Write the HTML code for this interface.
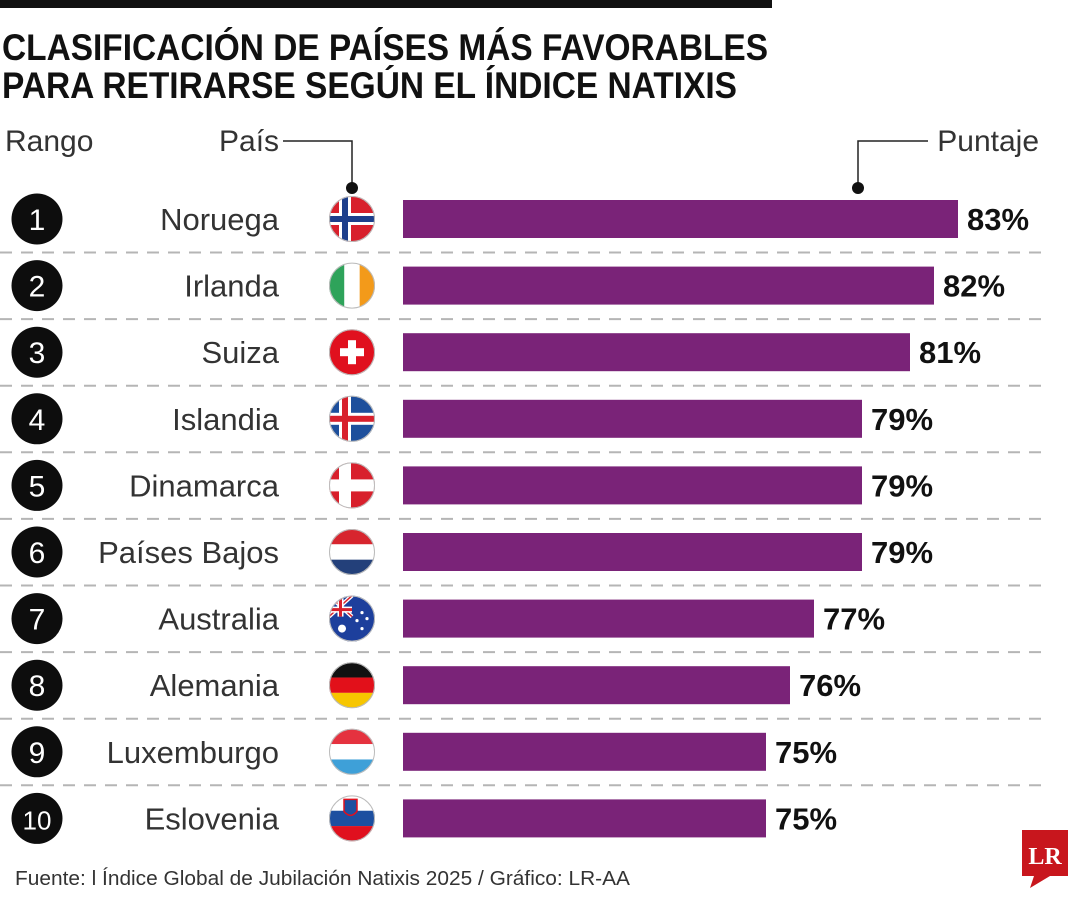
<!DOCTYPE html>
<html><head><meta charset="utf-8"><style>
html,body{margin:0;padding:0;background:#fff;}
svg{display:block;font-family:"Liberation Sans",sans-serif;}
</style></head><body>
<svg id="chart" width="1080" height="900" viewBox="0 0 1080 900" xmlns="http://www.w3.org/2000/svg">
<defs></defs>
<rect x="0" y="0" width="772" height="8" fill="#111"/>
<text x="2" y="60" font-size="37" font-weight="bold" fill="#111" textLength="766" lengthAdjust="spacingAndGlyphs">CLASIFICACIÓN DE PAÍSES MÁS FAVORABLES</text>
<text x="2" y="98" font-size="37" font-weight="bold" fill="#111" textLength="735" lengthAdjust="spacingAndGlyphs">PARA RETIRARSE SEGÚN EL ÍNDICE NATIXIS</text>
<text x="5" y="151" font-size="30" fill="#333">Rango</text>
<text x="219" y="151" font-size="30" fill="#333">País</text>
<polyline points="283,141 352,141 352,185" fill="none" stroke="#222" stroke-width="1.5"/>
<circle cx="352" cy="188" r="6" fill="#111"/>
<text x="1039" y="151" font-size="30" fill="#333" text-anchor="end">Puntaje</text>
<polyline points="928,141 858,141 858,185" fill="none" stroke="#222" stroke-width="1.5"/>
<circle cx="858" cy="188" r="6" fill="#111"/>
<g id="rows"></g>
<text x="15" y="885" font-size="20" fill="#333" textLength="615" lengthAdjust="spacingAndGlyphs">Fuente: l Índice Global de Jubilación Natixis 2025 / Gráfico: LR-AA</text>
<g>
<path d="M1022,830 h46 v46 h-18 l-20,12 l4,-12 h-12 z" fill="#c8161d"/>
<text x="1045" y="864" font-family="Liberation Serif,serif" font-weight="bold" font-size="24" fill="#fff" text-anchor="middle">LR</text>
</g>
</svg>
<script>
const countries=["Noruega","Irlanda","Suiza","Islandia","Dinamarca","Países Bajos","Australia","Alemania","Luxemburgo","Eslovenia"];
const scores=[83,82,81,79,79,79,77,76,75,75];
const valueLabels=["83%","82%","81%","79%","79%","79%","77%","76%","75%","75%"];
const flagCodes=["no","ie","ch","is","dk","nl","au","de","lu","si"];

const NS="http://www.w3.org/2000/svg";
const svg=document.getElementById('chart');
const defs=svg.querySelector('defs');
const rows=document.getElementById('rows');
const X0=403, PX=24, BASE=59.875;
function xScale(v){return X0+(v-BASE)*PX;}
function yRow(i){return 219+i*66.6;}
function mk(tag,attrs,parent){const e=document.createElementNS(NS,tag);for(const k in attrs)e.setAttribute(k,attrs[k]);parent.appendChild(e);return e;}

function drawFlag(code,cx,cy,g,i){
  const r=23;
  const cp=mk('clipPath',{id:'fc'+i},defs);
  mk('circle',{cx:cx,cy:cy,r:r},cp);
  const f=mk('g',{'clip-path':'url(#fc'+i+')'},g);
  const x=cx-r,y=cy-r,w=2*r,h=2*r;
  const R=(a,b,c,d,fill)=>mk('rect',{x:a,y:b,width:c,height:d,fill:fill},f);
  if(code==='no'||code==='is'||code==='dk'){
    const bg={no:'#d8202c',is:'#1d4f9c',dk:'#d8202c'}[code];
    R(x,y,w,h,bg);
    const vx=cx-7;
    R(vx-6,y,12,h,'#fff');R(x,cy-6,w,12,'#fff');
    if(code!=='dk'){const cc=code==='no'?'#1d3f8c':'#d8202c';R(vx-3,y,6,h,cc);R(x,cy-3,w,6,cc);}
  } else if(code==='ie'){R(x,y,w/3,h,'#2ea35a');R(x+w/3,y,w/3,h,'#fff');R(x+2*w/3,y,w/3,h,'#f39a1a');}
  else if(code==='ch'){R(x,y,w,h,'#e0101e');R(cx-4,cy-12,8,24,'#fff');R(cx-12,cy-4,24,8,'#fff');}
  else if(code==='nl'){R(x,y,w,h/3,'#d7252e');R(x,y+h/3,w,h/3,'#fff');R(x,y+2*h/3,w,h/3,'#23407a');}
  else if(code==='lu'){R(x,y,w,h/3,'#e5323f');R(x,y+h/3,w,h/3,'#fff');R(x,y+2*h/3,w,h/3,'#3ea0d8');}
  else if(code==='de'){R(x,y,w,h/3,'#111');R(x,y+h/3,w,h/3,'#e2101a');R(x,y+2*h/3,w,h/3,'#f7c600');}
  else if(code==='si'){R(x,y,w,h/3,'#fff');R(x,y+h/3,w,h/3,'#1d4fa0');R(x,y+2*h/3,w,h/3,'#e0101e');
    mk('path',{d:`M${cx-8},${cy-19} h13 v12 q-6.5,8 -13,0 z`,fill:'#1d4fa0',stroke:'#e0101e','stroke-width':1.5},f);}
  else if(code==='au'){R(x,y,w,h,'#1d3f9c');
    mk('path',{d:`M${x},${y} L${cx},${cy-2} M${cx},${y} L${x},${cy-2}`,stroke:'#fff','stroke-width':4},f);
    mk('path',{d:`M${x},${y} L${cx},${cy-2} M${cx},${y} L${x},${cy-2}`,stroke:'#d8202c','stroke-width':1.5},f);
    R(x+w/4-3,y,6,h/2-2,'#fff');R(x,cy-12,w/2,6,'#fff');
    R(x+w/4-1.5,y,3,h/2-2,'#d8202c');R(x,cy-10.5,w/2,3,'#d8202c');
    mk('circle',{cx:cx-10,cy:cy+10,r:4,fill:'#fff'},f);
    [[10,-6],[15,0],[10,10],[5,2]].forEach(p=>mk('circle',{cx:cx+p[0],cy:cy+p[1],r:1.6,fill:'#fff'},f));}
  mk('circle',{cx:cx,cy:cy,r:r-0.5,fill:'none',stroke:'#bbb','stroke-width':1},g);
}

countries.forEach((name,i)=>{
  const cy=yRow(i);
  const g=mk('g',{},rows);
  
  
  if(i<countries.length-1){
    const sep=mk('line',{x1:0,x2:1046,y1:cy+33.5,y2:cy+33.5,stroke:'#b5b5b5','stroke-width':2,'stroke-dasharray':'12,9'},g);
    
    
  }
  const c=mk('circle',{cx:37,cy:cy,r:25.5,fill:'#0d0d0d'},g);
  
  
  const rt=mk('text',{x:37,y:cy+11,'font-size':(i===9?26:30),fill:'#fff','text-anchor':'middle'},g);
  rt.textContent=String(i+1);
  
  
  const nt=mk('text',{x:279,y:cy+11,'font-size':31,fill:'#333','text-anchor':'end'},g);
  nt.textContent=name;
  
  
  const fg=mk('g',{},g);
  
  
  drawFlag(flagCodes[i],352,cy,fg,i);
  const xe=xScale(scores[i]);
  const bar=mk('rect',{x:X0,y:cy-19,width:xe-X0,height:38,fill:'#7a2378'},g);
  
  
  const vt=mk('text',{x:xe+9,y:cy+11,'font-size':31,'font-weight':'bold',fill:'#111'},g);
  vt.textContent=valueLabels[i];
  
  
});
</script>
</body></html>
